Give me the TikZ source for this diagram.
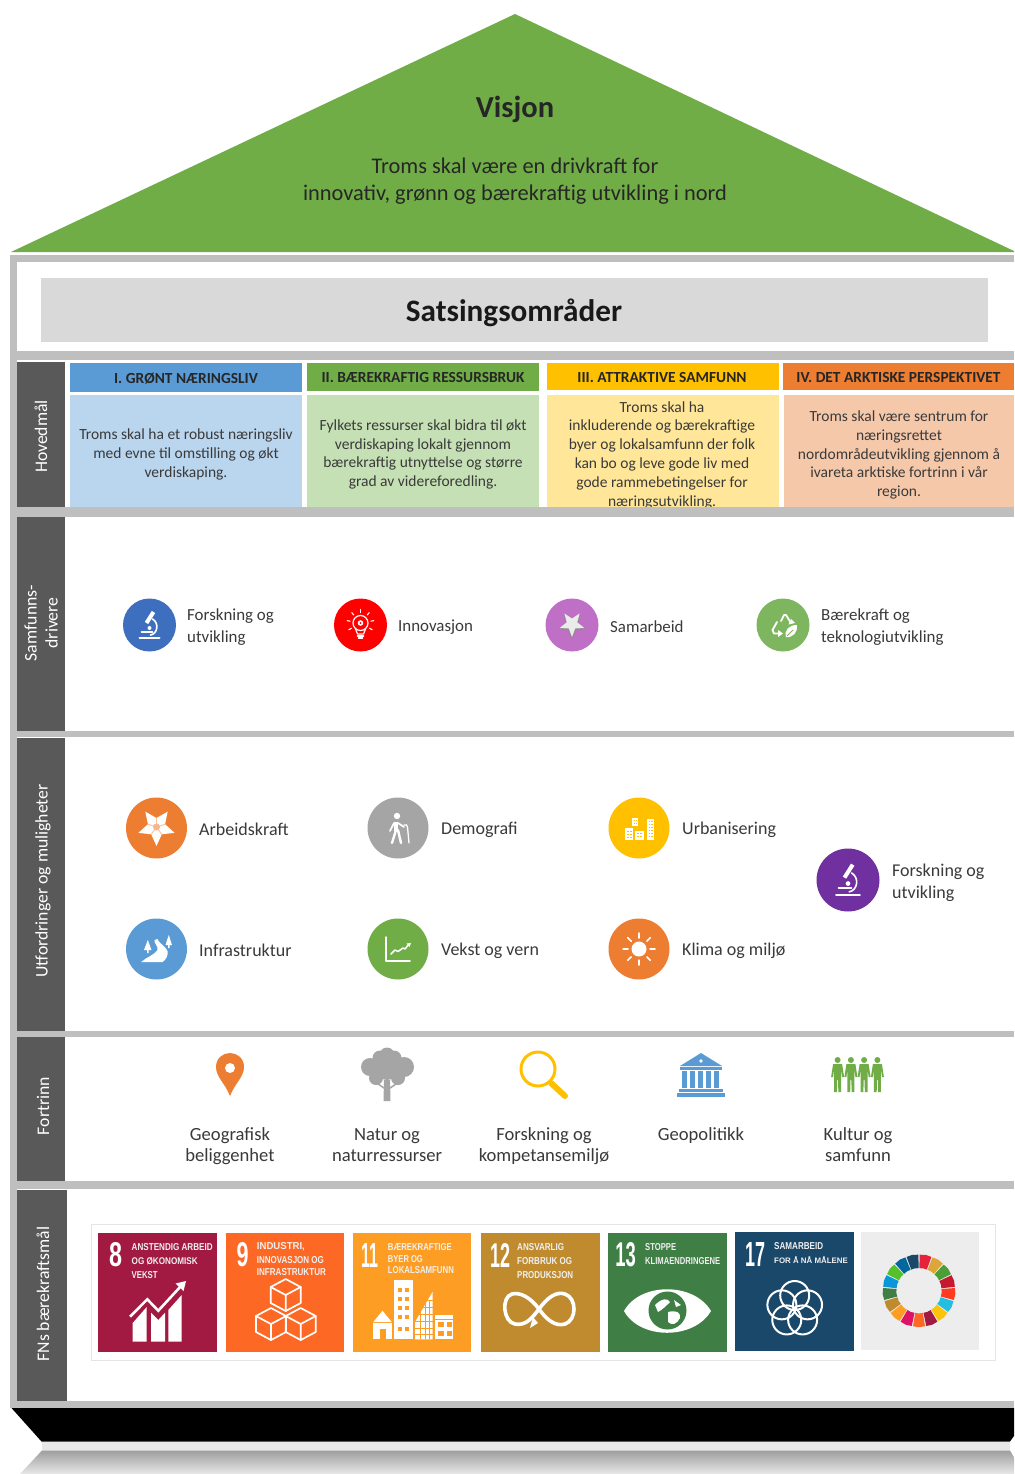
\documentclass[tikz,border=0pt]{standalone}
\usepackage{fontspec}
\usepackage{graphicx}
\setmainfont{Carlito}
\newfontfamily\sdgfont{Liberation Sans}
\usetikzlibrary{arrows.meta}
\definecolor{bandgray}{HTML}{BFBFBF}
\definecolor{sidegray}{HTML}{595959}
\definecolor{roofgreen}{HTML}{70AD47}
\definecolor{txtdark}{HTML}{3A3A3A}
\definecolor{w1}{HTML}{E5243B}\definecolor{w2}{HTML}{DDA63A}\definecolor{w3}{HTML}{4C9F38}
\definecolor{w4}{HTML}{C5192D}\definecolor{w5}{HTML}{FF3A21}\definecolor{w6}{HTML}{26BDE2}
\definecolor{w7}{HTML}{FCC30B}\definecolor{w8}{HTML}{A21942}\definecolor{w9}{HTML}{FD6925}
\definecolor{w10}{HTML}{DD1367}\definecolor{w11}{HTML}{FD9D24}\definecolor{w12}{HTML}{BF8B2E}
\definecolor{w13}{HTML}{3F7E44}\definecolor{w14}{HTML}{0A97D9}\definecolor{w15}{HTML}{56C02B}
\definecolor{w16}{HTML}{00689D}\definecolor{w17}{HTML}{19486A}
\tikzset{
  band/.style={fill=bandgray,draw=none},
  sidebox/.style={fill=sidegray,draw=none},
  sidelabel/.style={rotate=90,text=white,font=\fontsize{17.7}{21}\selectfont,align=center,inner sep=0pt},
  headtext/.style={font=\fontsize{15.4}{17}\selectfont\bfseries,text=black!85,inner sep=0pt},
  bodytext/.style={font=\fontsize{15.5}{18.8}\selectfont,text=txtdark,align=center,inner sep=0pt},
  smalllabel/.style={font=\fontsize{16.9}{21.5}\selectfont,text=txtdark,anchor=west,align=left,inner sep=0pt},
  midlabel/.style={font=\fontsize{18}{22}\selectfont,text=txtdark,anchor=west,align=left,inner sep=0pt},
  fortlabel/.style={font=\fontsize{18.6}{21}\selectfont,text=txtdark,align=center,inner sep=0pt},
  num/.style={text=white,inner sep=0pt},
  wl/.style={white,line width=#1,line cap=round,line join=round},
  wl/.default=1.5
}
\newcommand{\starfig}[3]{\fill[#3,line join=round] (90:#1)--(126:#2)--(162:#1)--(198:#2)--(234:#1)--(270:#2)--(306:#1)--(342:#2)--(18:#1)--(54:#2)--cycle;}
\newcommand{\microscope}{%
  \draw[wl=2] (-10,13)--(10,13);
  \draw[wl=1.6] (-8,7)--(3,7);
  \draw[wl=4,line cap=butt] (4,-13)--(-3,-2);
  \draw[wl=1.6] (3,-6) .. controls (10,-2) and (8,9) .. (1,10);
  \fill[white] (0,3) circle (2);
}
\newcommand{\sdgnum}[5]{\node[num,font=\sdgfont\bfseries\fontsize{30}{30}\selectfont] (#1) at (#2,#3) {\resizebox{#4pt}{24pt}{#5}};}
\newcommand{\sdgline}[5]{\node[num,anchor=west,font=\sdgfont\bfseries\fontsize{10}{10}\selectfont,text=white!88!gray] (#1) at (#2,#3) {\resizebox{#4pt}{7pt}{#5}};}
\newcommand{\cubeicon}[2]{%
  \begin{scope}[shift={(#1,#2)}]
    \draw[wl=1.7] (0,-16)--(15,-8)--(15,8)--(0,16)--(-15,8)--(-15,-8)--cycle;
    \draw[wl=1.7] (-15,-8)--(0,0)--(15,-8) (0,0)--(0,16);
  \end{scope}}
\newcommand{\personicon}[1]{%
  \begin{scope}[shift={(#1,1057)}]
    \fill[roofgreen] (0,3) circle (3);
    \fill[roofgreen] (-4.5,7)--(4.5,7)--(6.5,20)--(4.5,20)--(3.5,12)--(3.5,22)--(3.5,35)--(0.7,35)--(0.5,23)--(-0.5,23)--(-0.7,35)--(-3.5,35)--(-3.5,12)--(-4.5,20)--(-6.5,20)--cycle;
  \end{scope}}
\begin{document}
\begin{tikzpicture}[x=1pt,y=-1pt]
\useasboundingbox (0,0) rectangle (1014,1474);
\clip (0,0) rectangle (1014,1474);
\fill[white] (0,0) rectangle (1014,1474);

% roof
\fill[roofgreen] (11,252)--(515,14)--(1016,252)--cycle;
\node[font=\fontsize{30.5}{32}\selectfont\bfseries,text=black!85,inner sep=0pt] (visjon) at (515,109) {Visjon};
\node[font=\fontsize{22.4}{27}\selectfont,text=black!85,align=center,inner sep=0pt] (vistext) at (515,181) {Troms skal være en drivkraft for\\innovativ, grønn og bærekraftig utvikling i nord};

% satsing
\fill[fill=black!15] (41,278) rectangle (988,342);
\node[font=\fontsize{31.2}{33}\selectfont\bfseries,text=black!90,inner sep=0pt] (sats) at (514,313) {Satsingsområder};

% column headers and bodies
\definecolor{h1}{HTML}{5B9BD5}\definecolor{h2}{HTML}{70AD47}\definecolor{h3}{HTML}{FFC000}\definecolor{h4}{HTML}{ED7D31}
\definecolor{b1}{HTML}{BAD5EE}\definecolor{b2}{HTML}{C5E0B4}\definecolor{b3}{HTML}{FFE699}\definecolor{b4}{HTML}{F6C8AA}
\fill[h1] (70,363) rectangle (302,392);
\fill[h2] (307,363) rectangle (539,391);
\fill[h3] (547,363) rectangle (779,390);
\fill[h4] (783,363) rectangle (1014,390);
\fill[b1] (70,395) rectangle (302,507);
\fill[b2] (307,395) rectangle (539,507);
\fill[b3] (547,395) rectangle (779,507);
\fill[b4] (784,395) rectangle (1014,507);
\node[headtext] (h1t) at (186,378.5) {I. GRØNT NÆRINGSLIV};
\node[headtext] (h2t) at (423,377.5) {II. BÆREKRAFTIG RESSURSBRUK};
\node[headtext] (h3t) at (662,377.5) {III. ATTRAKTIVE SAMFUNN};
\node[headtext] (h4t) at (898.5,377.5) {IV. DET ARKTISKE PERSPEKTIVET};
\node[bodytext] (b1t) at (186,454.5) {Troms skal ha et robust næringsliv\\med evne til omstilling og økt\\verdiskaping.};
\node[bodytext] (b2t) at (423,454.5) {Fylkets ressurser skal bidra til økt\\verdiskaping lokalt gjennom\\bærekraftig utnyttelse og større\\grad av videreforedling.};
\node[bodytext] (b3t) at (662,455) {Troms skal ha\\inkluderende og bærekraftige\\byer og lokalsamfunn der folk\\kan bo og leve gode liv med\\gode rammebetingelser for\\næringsutvikling.};
\node[bodytext] (b4t) at (899,455) {Troms skal være sentrum for\\næringsrettet\\nordområdeutvikling gjennom å\\ivareta arktiske fortrinn i vår\\region.};

% frame bands
\fill[band] (10,255) rectangle (1014,262);
\fill[band] (10,255) rectangle (17,1408);
\fill[band] (17,351) rectangle (1014,360);
\fill[band] (17,507) rectangle (1014,517);
\fill[band] (17,731) rectangle (1014,737);
\fill[band] (17,1031) rectangle (1014,1037);
\fill[band] (17,1181) rectangle (1014,1189);
\fill[band] (10,1401) rectangle (1014,1408);

% side boxes
\fill[sidebox] (17,362) rectangle (65,507);
\fill[sidebox] (17,517) rectangle (65,731);
\fill[sidebox] (17,738) rectangle (65,1031);
\fill[sidebox] (17,1037) rectangle (65,1181);
\fill[sidebox] (17,1190) rectangle (67,1401);
\node[sidelabel] (s1) at (41,436.5) {Hovedmål};
\node[sidelabel] (s2) at (41,623) {Samfunns-\\drivere};
\node[sidelabel] (s3) at (43,881) {Utfordringer og muligheter};
\node[sidelabel] (s4) at (43,1106) {Fortrinn};
\node[sidelabel] (s5) at (43,1294) {FNs bærekraftsmål};

% base
\fill[black] (11.5,1408)--(1034,1408)--(1010,1441.5)--(41.5,1441.5)--cycle;
\fill[black!9] (42,1441.5) rectangle (1010,1450.5);
\shade[top color=black!38,bottom color=black!9,draw=none] (42,1450.5)--(1010,1450.5)--(1024,1474)--(20,1474)--cycle;

% Samfunnsdrivere
\definecolor{c1}{HTML}{3E6FBE}\definecolor{c3}{HTML}{BF6FC6}\definecolor{c4}{HTML}{7DB65F}
\fill[c1] (149.5,625) circle (26.5);
\begin{scope}[shift={(149.5,625)}]\microscope\end{scope}
\node[smalllabel] (l1) at (187,627) {Forskning og\\utvikling};
\fill[red] (360.5,625) circle (26.5);
\begin{scope}[shift={(360.5,625)}]
  \draw[wl=1.2] (0,-2) circle (7.5);
  \fill[white] (0,-2) circle (2.8);
  \fill[red] (0,-2) circle (1);
  \draw[wl=1.2] (-5,4)--(-3,9)--(3,9)--(5,4);
  \draw[wl=1.5] (-3,11)--(3,11) (-2,13)--(2,13);
  \foreach \a in {-90,-50,-130,-10,-170,30,150}
    \draw[wl=1.1] ([shift={(0,-2)}]\a:10.5)--([shift={(0,-2)}]\a:13.5);
\end{scope}
\node[smalllabel] (l2) at (398,627) {Innovasjon};
\fill[c3] (572,625) circle (26.5);
\begin{scope}[shift={(572,625)}]
  \starfig{14}{6.5}{black!45}
  \begin{scope}[shift={(0,-1)}]\starfig{13}{5.5}{white!92!black}\end{scope}
\end{scope}
\node[smalllabel] (l3) at (610,626.5) {Samarbeid};
\fill[c4] (783,625) circle (26.5);
\begin{scope}[shift={(783,625)}]
  % three bent arrows of the recycling triangle
  \draw[wl=1.8] (-2,-4)--(1,-10)--(3,-10)--(8,-2);
  \fill[white] (12,-2)--(5.5,-0.5)--(8,-6)--cycle;
  \draw[wl=1.8] (-6,-3)--(-10.5,5)--(-9,8.5)--(-4,8.5);
  \fill[white] (0,8.5)--(-5,5)--(-5,12)--cycle;
  \fill[white] (3,12) .. controls (1,5) and (6,0) .. (14,0) .. controls (15,7) and (10,13) .. (3,12) --cycle;
  \draw[c4,line width=0.9] (4,11)--(10,5);
\end{scope}
\node[smalllabel] (l4) at (821,627) {Bærekraft og\\teknologiutvikling};

% Utfordringer
\definecolor{orng}{HTML}{ED7D31}\definecolor{gra}{HTML}{A5A5A5}\definecolor{yel}{HTML}{FFC000}\definecolor{blu}{HTML}{5B9BD5}\definecolor{purp}{HTML}{7030A0}
\fill[orng] (156.5,828) circle (30.5);
\begin{scope}[shift={(156.5,827)}]
  \starfig{19}{9}{white}
  \foreach \a in {54,126,198,270,342} \draw[orng!45,line width=1] (0,0)--(\a:9);
  \fill[orng!55] (0,0) circle (3.5);
\end{scope}
\node[midlabel] (u1) at (199,829.5) {Arbeidskraft};
\fill[gra] (398,828) circle (30.5);
\begin{scope}[shift={(398,828)}]
  \fill[white] (-1,-12) circle (3.2);
  \draw[wl=4.5,line cap=butt] (-2,-6)--(-2,3);
  \draw[wl=2.4] (-2,2)--(-6,15) (0,2)--(3,15);
  \draw[wl=1.7] (-4,-5)--(-8,3) (0,-5)--(6,-1);
  \draw[wl=1.3] (6,-3) .. controls (8,-4) and (9,-3) .. (9.5,-1) -- (11,15);
\end{scope}
\node[midlabel] (u2) at (441,829.5) {Demografi};
\fill[yel] (639,828) circle (30.5);
\begin{scope}[shift={(639,828)}]
  \fill[white] (-14,0) rectangle (-6,12);
  \fill[white] (-7,-10) rectangle (-1,-2);
  \fill[white] (-4,3) rectangle (5,12);
  \fill[white] (8,-9) rectangle (15,12);
  \foreach \xx in {-12,-9} \foreach \yy in {3,6,9} \fill[yel] (\xx,\yy) rectangle +(1.6,1.4);
  \foreach \xx in {-2,1} \foreach \yy in {5,8} \fill[yel] (\xx,\yy) rectangle +(1.6,1.4);
  \foreach \xx in {9.5,12.2} \foreach \yy in {-7,-4,-1,2,5,8} \fill[yel] (\xx,\yy) rectangle +(1.5,1.4);
  \foreach \xx in {-5.5,-3} \foreach \yy in {-8,-5} \fill[yel] (\xx,\yy) rectangle +(1.4,1.4);
\end{scope}
\node[midlabel] (u3) at (682,829.5) {Urbanisering};
\fill[blu] (156.5,949) circle (30.5);
\begin{scope}[shift={(156.5,949)}]
  \fill[white] (-15.3,13) .. controls (-10,8) and (-2,6) .. (1,1) .. controls (2,-3) and (-3,-6) .. (-2,-9) -- (1,-10) .. controls (2,-6) and (9,-3) .. (11,2) .. controls (12,7) and (9,11) .. (6,13) --cycle;
  \fill[white] (-8.7,-9)--(-5,1)--(-8,1)--(-8,4)--(-9.4,4)--(-9.4,1)--(-12.5,1)--cycle;
  \fill[white] (12.3,-14)--(15.5,-4)--(13,-4)--(13,-1)--(11.6,-1)--(11.6,-4)--(9,-4)--cycle;
\end{scope}
\node[midlabel] (u4) at (199,950) {Infrastruktur};
\fill[roofgreen] (398,949) circle (30.5);
\begin{scope}[shift={(398,949)}]
  \draw[wl=1.5] (-12,-12)--(-12,12)--(12,12);
  \draw[wl=1.5] (-7,5)--(-3,1)--(0,2.5)--(5,-1)--(7,0)--(11,-5);
  \fill[white] (13,-6)--(8.5,-5.5)--(11.5,-2)--cycle;
\end{scope}
\node[midlabel] (u5) at (441,950.5) {Vekst og vern};
\fill[orng] (639,949) circle (30.5);
\begin{scope}[shift={(639,949)}]
  \fill[white] (0,0) circle (7.5);
  \foreach \a in {0,45,...,315} \draw[wl=1.5] (\a:11)--(\a:16);
\end{scope}
\node[midlabel] (u6) at (682,950.5) {Klima og miljø};
\fill[purp] (848,880) circle (31.5);
\begin{scope}[shift={(848,880)},scale=1.18]\microscope\end{scope}
\node[midlabel] (u7) at (892,883) {Forskning og\\utvikling};

% Fortrinn icons
\fill[orng] (230,1096) .. controls (225,1083) and (216,1077) .. (216,1067) .. controls (216,1058) and (223,1053) .. (230,1053) .. controls (237,1053) and (244,1058) .. (244,1067) .. controls (244,1077) and (235,1083) .. (230,1096) --cycle;
\fill[white] (230,1068) circle (5);
\begin{scope}[gra]
  \fill (380,1058) circle (7.5) (394,1058) circle (7.5) (387,1055) circle (7.5) (370,1067) circle (9) (404,1067) circle (10) (387,1068) circle (12) (376,1078) circle (7) (398,1078) circle (7);
  \fill (384,1080) -- (390,1080) -- (390.5,1101) -- (383.5,1101) -- cycle;
  \draw[line width=1.5] (387,1090)--(375,1082) (387,1090)--(399,1082);
\end{scope}
\draw[yel,line width=3] (538,1069) circle (17);
\draw[yel,line width=6,line cap=round] (551,1083)--(565,1096);
\begin{scope}[blu]
  \fill (701,1053)--(722,1066)--(680,1066)--cycle;
  \fill (680,1067) rectangle (722,1070);
  \foreach \xx in {682,690,698,706,714} \fill (\xx,1071) rectangle +(5,17);
  \fill (679,1088.5) rectangle (723,1092);
  \fill (677,1093) rectangle (725,1097);
\end{scope}
\fill[white] (701,1061) circle (1.8);
\personicon{837.6}\personicon{850.9}\personicon{864.1}\personicon{877.4}
\node[fortlabel] (f1) at (230,1146.5) {Geografisk\\beliggenhet};
\node[fortlabel] (f2) at (387,1145.5) {Natur og\\naturressurser};
\node[fortlabel] (f3) at (544,1146.5) {Forskning og\\kompetansemiljø};
\node[fortlabel] (f4) at (701,1135.5) {Geopolitikk};
\node[fortlabel] (f5) at (858,1144.5) {Kultur og\\samfunn};

% SDG tiles
\draw[black!10,line width=0.7] (91,1224.5) rectangle (995,1360);
\definecolor{s8}{HTML}{A21942}\definecolor{s9}{HTML}{FD6925}\definecolor{s11}{HTML}{FD9D24}\definecolor{s12}{HTML}{BF8B2E}\definecolor{s13}{HTML}{3F7E44}\definecolor{s17}{HTML}{19486A}
\fill[s8] (98,1233) rectangle (217,1352);
\fill[s9] (225.5,1233) rectangle (344,1352);
\fill[s11] (353,1233) rectangle (471,1352);
\fill[s12] (481,1233) rectangle (599.5,1352);
\fill[s13] (608,1233) rectangle (727,1352);
\fill[s17] (735,1232) rectangle (853.5,1350.7);
\fill[black!7] (861,1232) rectangle (979,1350);

\sdgnum{n8}{115.7}{1255}{13}{8}
\sdgline{t8a}{131.5}{1247}{81}{ANSTENDIG ARBEID}
\sdgline{t8b}{131.5}{1261}{66}{OG ØKONOMISK}
\sdgline{t8c}{131.5}{1275}{26}{VEKST}
\sdgnum{n9}{242.7}{1255}{12}{9}
\sdgline{t9a}{256.7}{1247}{48}{INDUSTRI,}
\sdgline{t9b}{256.7}{1260}{67}{INNOVASJON OG}
\sdgline{t9c}{256.7}{1272.5}{69}{INFRASTRUKTUR}
\sdgnum{n11}{370}{1255}{17}{11}
\sdgline{t11a}{387.7}{1247}{64}{BÆREKRAFTIGE}
\sdgline{t11b}{387.7}{1258.7}{35}{BYER OG}
\sdgline{t11c}{387.7}{1270.4}{66}{LOKALSAMFUNN}
\sdgnum{n12}{500}{1255}{20}{12}
\sdgline{t12a}{517}{1247}{47}{ANSVARLIG}
\sdgline{t12b}{517}{1261}{55}{FORBRUK OG}
\sdgline{t12c}{517}{1275}{56}{PRODUKSJON}
\sdgnum{n13}{625.7}{1255}{20.5}{13}
\sdgline{t13a}{645}{1247}{31}{STOPPE}
\sdgline{t13b}{645}{1261}{75}{KLIMAENDRINGENE}
\sdgnum{n17}{755}{1254}{20}{17}
\sdgline{t17a}{774}{1246.5}{49}{SAMARBEID}
\sdgline{t17b}{774}{1260.5}{73.7}{FOR Å NÅ MÅLENE}

% goal 8 icon
\fill[white] (132.7,1323)--(146.7,1307)--(146.7,1341.7)--(132.7,1341.7)--cycle;
\fill[white] (151,1312.7)--(158.3,1320)--(165,1312.7)--(165,1341.7)--(151,1341.7)--cycle;
\fill[white] (168.3,1310)--(181.7,1295)--(181.7,1341.7)--(168.3,1341.7)--cycle;
\draw[s8,line width=4.5,line join=miter] (128,1321)--(147.3,1302)--(158.3,1314)--(182,1289);
\draw[white,line width=2.6,line join=miter] (130,1316.7)--(147.3,1299.3)--(158.3,1310.7)--(181,1286);
\fill[white] (186,1281)--(183.5,1291)--(175.5,1283.5)--cycle;

% goal 9 icon
\cubeicon{285.7}{1295}
\cubeicon{271}{1324}
\cubeicon{300.7}{1324}

% goal 11 icon
\fill[white] (382.5,1310.7)--(391.7,1322)--(373.3,1322)--cycle;
\fill[white] (373.3,1323) rectangle (391.7,1339.3);
\fill[s11] (379.5,1329) rectangle (385.5,1339.3);
\fill[white] (394,1280) rectangle (412.7,1339.3);
\foreach \yy in {1288,1297,1306,1315,1327} \foreach \xx in {397.5,405}
  \fill[s11] (\xx,\yy) rectangle +(4,4.2);
\fill[white] (415,1322)--(432.7,1291.7)--(432.7,1339.3)--(415,1339.3)--cycle;
\foreach \yy in {1300,1307,1314,1321,1328,1334} \draw[s11,line width=0.8] (415,\yy)--(432.7,\yy);
\foreach \xx in {420,425,429} \draw[s11,line width=0.8] (\xx,1300)--(\xx,1339.3);
\fill[white] (435,1315) rectangle (453.3,1339.3);
\draw[s11,line width=1] (435,1319)--(453.3,1319);
\foreach \yy in {1322,1331} \foreach \xx in {438,446.5} \fill[s11] (\xx,\yy) rectangle +(5.5,4.5);

% goal 12 icon
\draw[white,line width=3.6] (539,1309) .. controls (530,1297) and (520,1292) .. (512,1294) .. controls (501,1297) and (503,1322) .. (515,1324) .. controls (526,1326) and (532,1318) .. (539,1309) .. controls (547,1298) and (556,1291) .. (565,1294) .. controls (577,1298) and (577,1320) .. (565,1324) .. controls (555,1327) and (546,1319) .. (539,1309);
\fill[white] (530,1328)--(533,1317)--(538,1323)--cycle;

% goal 13 icon
\fill[white] (624,1311) .. controls (640,1282) and (694,1282) .. (711,1311) .. controls (694,1340) and (640,1340) .. (624,1311) --cycle;
\fill[s13] (667.5,1310.5) circle (19);
\fill[white] (655,1305) .. controls (662,1298) and (668,1298) .. (670,1302) .. controls (666,1306) and (662,1310) .. (658,1312) --cycle;
\fill[white] (668,1312) .. controls (676,1310) and (681,1312) .. (680,1318) .. controls (677,1324) and (672,1326) .. (668,1322) --cycle;
\fill[white] (674,1300) -- (681,1305) -- (676,1307) -- cycle;

% goal 17 icon
\begin{scope}[shift={(794.7,1309)}]
  \foreach \a in {-90,-18,54,126,198}
    \draw[white,line width=2] (\a:13.5) circle (14.5);
\end{scope}

% wheel
\begin{scope}[shift={(919,1290.7)}]
  \foreach \i in {1,...,17} {
    \pgfmathsetmacro{\aa}{-89+(\i-1)*21.176}
    \pgfmathsetmacro{\ab}{\aa+9.6}
    \pgfmathsetmacro{\ac}{\aa+19.2}
    \fill[w\i] (\aa:22.5)--(\aa:36)--(\ab:36.5)--(\ac:36)--(\ac:22.5)--(\ab:22.8)--cycle;
  }
\end{scope}
\end{tikzpicture}
\end{document}
